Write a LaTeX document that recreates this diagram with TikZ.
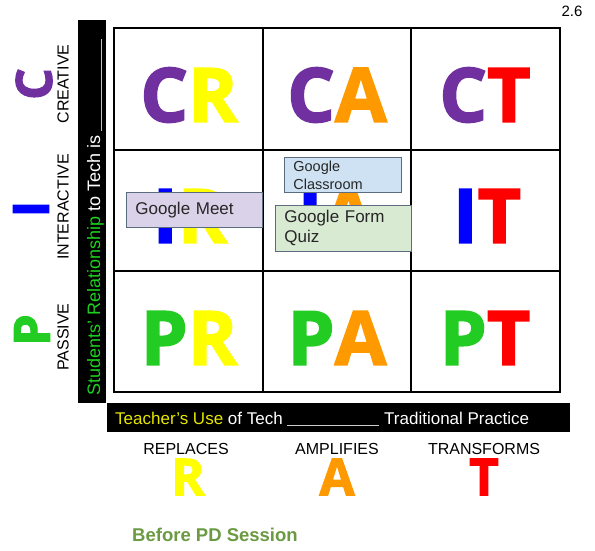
\documentclass[tikz,border=0pt]{standalone}
\usepackage{fontspec}
\setmainfont{Liberation Sans}
\newfontfamily\heavyfont[BoldFeatures={FakeBold=2.2}]{Open Sans}
\usetikzlibrary{positioning}
\definecolor{cpurple}{HTML}{7030A0}
\definecolor{iblue}{HTML}{0000FF}
\definecolor{pgreen}{HTML}{22CC22}
\definecolor{ryellow}{HTML}{FFFF00}
\definecolor{aorange}{HTML}{FF9900}
\definecolor{tred}{HTML}{FF0000}
\definecolor{bargreen}{HTML}{1ED11E}
\definecolor{baryellow}{HTML}{E6E600}
\definecolor{sessiongreen}{HTML}{6A9A42}
\definecolor{meetfill}{HTML}{D9D2E9}
\definecolor{roomfill}{HTML}{CFE2F3}
\definecolor{quizfill}{HTML}{D9EAD3}
\definecolor{noteedge}{HTML}{5B6B80}

\begin{document}
\begin{tikzpicture}[x=1pt,y=-1pt,
  cellword/.style={inner sep=0,font=\heavyfont\bfseries\fontsize{75}{75}\selectfont},
  sideword/.style={inner sep=0,rotate=90,font=\heavyfont\bfseries\fontsize{50}{50}\selectfont},
  footword/.style={inner sep=0,font=\heavyfont\bfseries\fontsize{51}{51}\selectfont},
  sidelabel/.style={inner sep=0,rotate=90,font=\fontsize{16}{16}\selectfont},
  footlabel/.style={inner sep=0,font=\fontsize{16}{16}\selectfont},
  bar/.style={fill=black,inner sep=0},
  note/.style={draw=noteedge,line width=0.8pt,anchor=north west,align=left,
    inner xsep=9pt,inner ysep=2pt,text=black!85},
  grid/.style={line width=2.6pt,black}
]
  \useasboundingbox (0,0) rectangle (595,550);

  \draw[grid] (114,28) rectangle (560,392);
  \draw[grid] (263,28) -- (263,392);
  \draw[grid] (411,28) -- (411,392);
  \draw[grid] (114,150) -- (560,150);
  \draw[grid] (114,271) -- (560,271);

  \node[cellword] (cr) at (189,95) {\textcolor{cpurple}{C}\textcolor{ryellow}{R}};
  \node[cellword] (ca) at (337,95) {\textcolor{cpurple}{C}\textcolor{aorange}{A}};
  \node[cellword] (ct) at (485,95) {\textcolor{cpurple}{C}\textcolor{tred}{T}};
  \node[cellword] (ir) at (190,216) {\textcolor{iblue}{I}\textcolor{ryellow}{R}};
  \node[cellword] (ia) at (336,216) {\textcolor{iblue}{I}\textcolor{aorange}{A}};
  \node[cellword] (it) at (487,216) {\textcolor{iblue}{I}\textcolor{tred}{T}};
  \node[cellword] (pr) at (189,338) {\textcolor{pgreen}{P}\textcolor{ryellow}{R}};
  \node[cellword] (pa) at (337,338) {\textcolor{pgreen}{P}\textcolor{aorange}{A}};
  \node[cellword] (pt) at (485,338) {\textcolor{pgreen}{P}\textcolor{tred}{T}};

  \node[note,fill=meetfill,minimum width=136,minimum height=35,text width=118,
    font=\fontsize{17}{19}\selectfont] (meet) at (126,192) {Google Meet};
  \node[note,fill=roomfill,minimum width=117,minimum height=35,text width=99,
    font=\fontsize{14.5}{18}\selectfont] (classroom) at (284,157) {Google\\Classroom};
  \node[note,fill=quizfill,minimum width=136,minimum height=46,text width=118,
    font=\fontsize{17}{20}\selectfont] (quiz) at (275,205) {Google Form\\Quiz};

  \node[bar,minimum width=28,minimum height=383] (sidebar) at (92,211.5) {};
  \node[rotate=90,anchor=base west,inner sep=0,text=white,font=\fontsize{18}{18}\selectfont]
    (students) at (100,396) {\textcolor{bargreen}{Students' Relationship} to Tech is
    \textcolor{black!25}{\rule[-2pt]{92pt}{1pt}}};
  \node[bar,minimum width=463,minimum height=29] (footbar) at (338.5,417.5) {};
  \node[anchor=base west,inner sep=0,text=white,font=\fontsize{17}{17}\selectfont]
    (teacher) at (115,424) {\textcolor{baryellow}{Teacher's Use} of Tech
    \textcolor{black!20}{\rule[-2pt]{92pt}{1pt}} Traditional Practice};

  \node[sideword,text=cpurple] (cletter) at (34,84) {C};
  \node[sideword,text=iblue] (iletter) at (31,209) {I};
  \node[sideword,text=pgreen] (pletter) at (32,330) {P};
  \node[sidelabel] (creative) at (63,84) {CREATIVE};
  \node[sidelabel] (interactive) at (63,207) {INTERACTIVE};
  \node[sidelabel] (passive) at (63,337) {PASSIVE};

  \node[footlabel] (replaces) at (186,449) {REPLACES};
  \node[footlabel] (amplifies) at (337,449) {AMPLIFIES};
  \node[footlabel] (transforms) at (484,449) {TRANSFORMS};
  \node[footword,text=ryellow] (rletter) at (188,477) {R};
  \node[footword,text=aorange] (aletter) at (337,477) {A};
  \node[footword,text=tred] (tletter) at (484,477) {T};

  \node[anchor=west,inner sep=0,text=sessiongreen,font=\bfseries\fontsize{18.5}{18.5}\selectfont]
    (session) at (132,535) {Before PD Session};
  \node[inner sep=0,font=\fontsize{15}{15}\selectfont] (page) at (572,11) {2.6};
\end{tikzpicture}
\end{document}
